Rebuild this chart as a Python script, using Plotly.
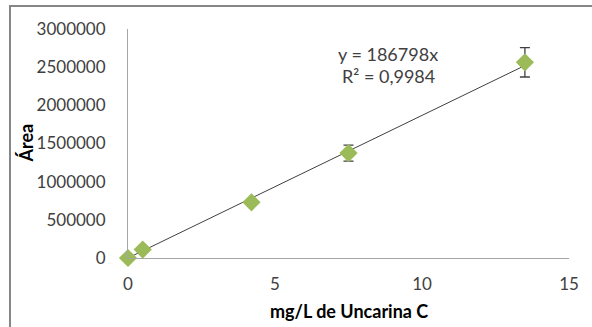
import plotly.graph_objects as go

# Calibration data: concentration (mg/L) vs. peak area
conc = [0.0, 0.5, 4.2, 7.5, 13.5]
area = [0, 110000, 730000, 1375000, 2563000]
area_err = [0, 0, 0, 105000, 192000]

slope = 186798
r2_text = "0,9984"

x_ticks = [0, 5, 10, 15]
y_ticks = [0, 500000, 1000000, 1500000, 2000000, 2500000, 3000000]

FONT = "Lato"
TEXT = "#404040"

W, H = 592, 327
ML, MR, MT, MB = 128, 23, 29, 69
pw = W - ML - MR
ph = H - MT - MB


def px(x):
    return (x - ML) / pw


def py(y):
    return (H - MB - y) / ph


fig = go.Figure()

# Linear trendline through the origin
fig.add_trace(go.Scatter(
    x=[0, max(conc)],
    y=[0, slope * max(conc)],
    mode="lines",
    line=dict(color="#404040", width=1),
    hoverinfo="skip",
    cliponaxis=False,
))

fig.add_trace(go.Scatter(
    x=conc,
    y=area,
    mode="markers",
    marker=dict(symbol="diamond", size=14, color="#9BBB59"),
    error_y=dict(type="data", array=area_err, visible=True,
                 color="#404040", thickness=1.3, width=5),
    cliponaxis=False,
))

fig.update_layout(
    width=W, height=H,
    margin=dict(l=ML, r=MR, t=MT, b=MB),
    paper_bgcolor="white",
    plot_bgcolor="white",
    showlegend=False,
    font=dict(family=FONT, size=17, color=TEXT),
    xaxis=dict(
        range=[0, 15], tickvals=x_ticks, showgrid=False, zeroline=False,
        showline=True, linecolor="#A6A6A6", linewidth=1,
        ticks="", ticklabelstandoff=11,
        tickfont=dict(family=FONT, size=17, color=TEXT),
    ),
    yaxis=dict(
        range=[0, 3000000], tickvals=y_ticks, tickformat="d",
        showgrid=False, zeroline=False,
        showline=True, linecolor="#A6A6A6", linewidth=1,
        ticks="", ticklabelstandoff=18,
        tickfont=dict(family=FONT, size=17, color=TEXT),
    ),
    shapes=[dict(
        type="rect", xref="paper", yref="paper",
        x0=px(10), x1=px(620), y0=py(340), y1=py(6),
        line=dict(color="#868686", width=2), fillcolor="rgba(0,0,0,0)",
        layer="below",
    )],
    annotations=[
        dict(text="<b>Área</b>", xref="paper", yref="paper",
             x=px(25), y=0.5, textangle=-90, showarrow=False,
             font=dict(family=FONT, size=18, color="black"),
             xanchor="center", yanchor="middle"),
        dict(text="<b>mg/L de Uncarina C</b>", xref="paper", yref="paper",
             x=0.5, y=py(311), showarrow=False,
             font=dict(family=FONT, size=18, color="black"),
             xanchor="center", yanchor="middle"),
        dict(text=f"y = {slope}x", xref="paper", yref="paper",
             x=px(388), y=py(54), showarrow=False,
             font=dict(family=FONT, size=18, color=TEXT),
             xanchor="center", yanchor="middle"),
        dict(text=f"R² = {r2_text}", xref="paper", yref="paper",
             x=px(388), y=py(76), showarrow=False,
             font=dict(family=FONT, size=18, color=TEXT),
             xanchor="center", yanchor="middle"),
    ],
)

fig.write_html("out.html")
